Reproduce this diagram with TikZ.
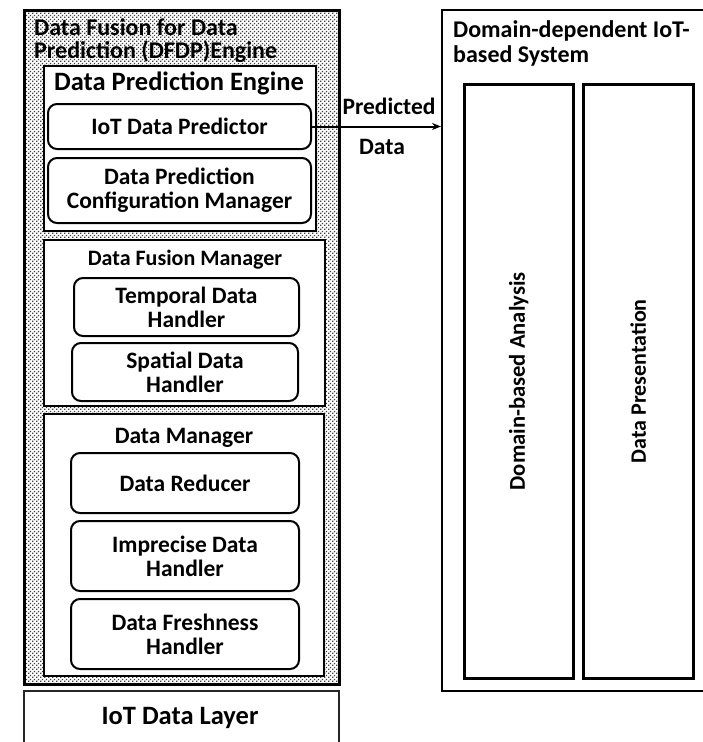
\documentclass[tikz,border=0pt]{standalone}
\usepackage{fontspec}
\setmainfont{Carlito}
\usetikzlibrary{patterns,arrows.meta}
% coarse dot texture for the engine background
\pgfdeclarepatternformonly{coarsedots}{\pgfpointorigin}{\pgfpoint{4pt}{4pt}}{\pgfpoint{4pt}{4pt}}{%
  \pgfpathrectangle{\pgfpoint{0.3pt}{0.3pt}}{\pgfpoint{1.5pt}{1.5pt}}%
  \pgfpathrectangle{\pgfpoint{2.3pt}{2.3pt}}{\pgfpoint{1.5pt}{1.5pt}}%
  \pgfusepath{fill}}
\begin{document}
\begin{tikzpicture}[x=1pt,y=-1pt,
  txt/.style={font=\fontsize{23.5}{24}\selectfont\bfseries, align=center, inner sep=0pt},
  panel/.style={draw=black, line width=2.8pt, anchor=north west, inner sep=0pt},
  section/.style={draw=black, line width=2.4pt, fill=white, anchor=north west, inner sep=0pt},
  unit/.style={draw=black, line width=2pt, fill=white, rounded corners=9pt, anchor=north west, inner sep=0pt,
    font=\fontsize{23.5}{24}\selectfont\bfseries, align=center},
  column/.style={draw=black, line width=2.6pt, anchor=north west, inner sep=0pt},
  flow/.style={line width=2pt, -{Stealth[length=9pt,width=7pt]}}
]
\clip (0,0) rectangle (703,742);
\fill[white] (0,0) rectangle (703,742);

% DFDP engine with dotted background
\node[panel, pattern=coarsedots, pattern color=black!75, minimum width=315pt, minimum height=674pt] (dfdp) at (23,9) {};
\node[txt, anchor=north west, align=left, font=\fontsize{24}{23}\selectfont\bfseries] (dfdpT) at (34,18) {Data Fusion for Data\\Prediction (DFDP)Engine};

% Data prediction engine
\node[section, minimum width=272pt, minimum height=165pt] (dpe) at (43,65) {};
\node[txt, anchor=center, font=\fontsize{26.5}{27}\selectfont\bfseries] (dpeT) at (179,83) {Data Prediction Engine};
\node[unit, minimum width=263pt, minimum height=45pt] (pred) at (47,103) {IoT Data Predictor};
\node[unit, minimum width=263pt, minimum height=65pt] (cfg) at (47,157) {Data Prediction\\Configuration Manager};

% Data fusion manager
\node[section, minimum width=281pt, minimum height=166pt] (dfm) at (43,239) {};
\node[txt, anchor=center, font=\fontsize{22}{23}\selectfont\bfseries] (dfmT) at (185,260) {Data Fusion Manager};
\node[unit, minimum width=225pt, minimum height=58pt] (temp) at (73,277) {Temporal Data\\Handler};
\node[unit, minimum width=226pt, minimum height=58pt] (spat) at (71,342) {Spatial Data\\Handler};

% Data manager
\node[section, minimum width=280pt, minimum height=262pt] (dm) at (43,413) {};
\node[txt, anchor=center] (dmT) at (184,438) {Data Manager};
\node[unit, minimum width=228pt, minimum height=60pt] (red) at (70,452) {Data Reducer};
\node[unit, minimum width=228pt, minimum height=70pt] (imp) at (70,520) {Imprecise Data\\Handler};
\node[unit, minimum width=228pt, minimum height=70pt] (fresh) at (70,598) {Data Freshness\\Handler};

% IoT data layer
\node[draw=black!85, line width=1.6pt, anchor=north west, inner sep=0pt, minimum width=315pt, minimum height=70pt] (layer) at (23,690) {};
\node[txt, anchor=center, font=\fontsize{26.5}{27}\selectfont\bfseries] (layerT) at (180,718) {IoT Data Layer};

% Domain-dependent IoT-based system
\node[draw=black, line width=2pt, anchor=north west, inner sep=0pt, minimum width=280pt, minimum height=681pt] (sys) at (441,9) {};
\node[txt, anchor=north west, align=left, font=\fontsize{24}{25}\selectfont\bfseries] (sysT) at (453,20) {Domain-dependent IoT-\\based System};
\node[column, minimum width=109pt, minimum height=594pt] (ana) at (463,83) {};
\node[txt, rotate=90, anchor=center, font=\fontsize{22.6}{24}\selectfont\bfseries] at (ana.center) {Domain-based Analysis};
\node[column, minimum width=110pt, minimum height=594pt] (pres) at (582,83) {};
\node[txt, rotate=90, anchor=center, font=\fontsize{22}{24}\selectfont\bfseries] at (pres.center) {Data Presentation};

% Predicted data flow
\draw[flow] (pred.east) -- (pred.east -| sys.west);
\node[txt, anchor=center] (lblA) at (389,106) {Predicted};
\node[txt, anchor=center] (lblB) at (382,147) {Data};
\end{tikzpicture}
\end{document}
